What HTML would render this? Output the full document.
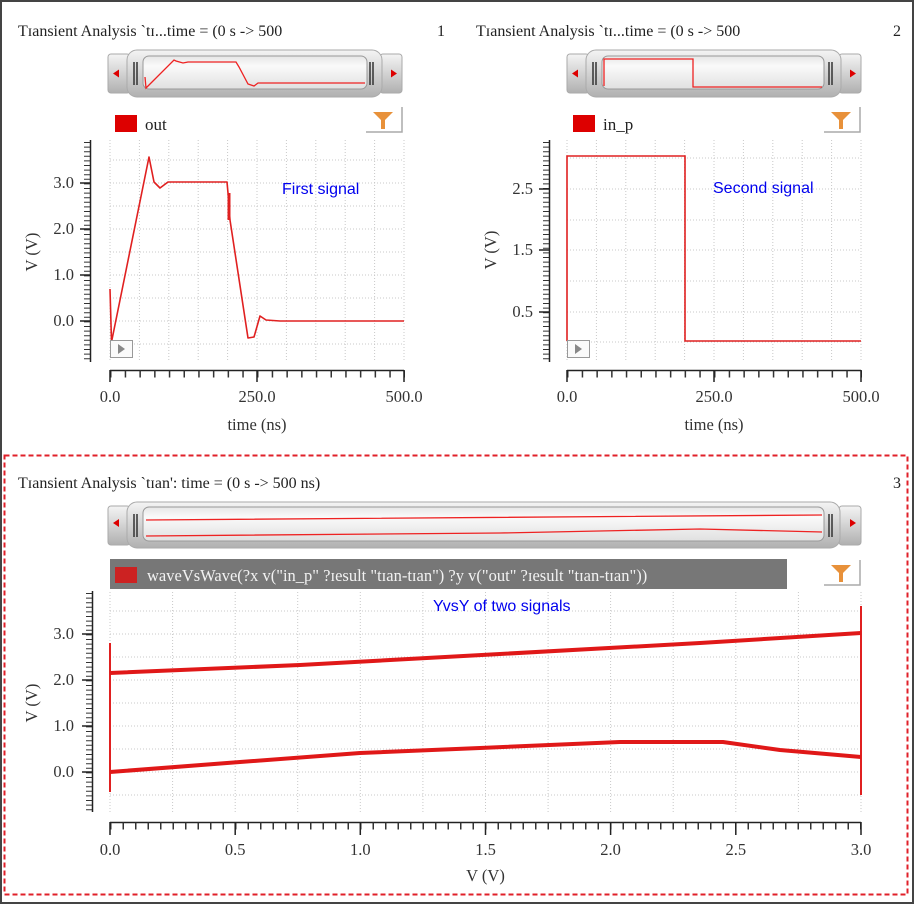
<!DOCTYPE html>
<html><head><meta charset="utf-8"><style>
html,body{margin:0;padding:0;background:#fff;}
svg{display:block;}
.t{font-family:"Liberation Serif",serif;font-size:16px;fill:#222;}
.a{font-family:"Liberation Serif",serif;font-size:16.5px;fill:#333;}
.b{font-family:"Liberation Sans",sans-serif;font-size:16px;fill:#0000ee;}
</style></head><body>
<svg width="923" height="912" viewBox="0 0 923 912" xmlns="http://www.w3.org/2000/svg">
<defs>
<linearGradient id="cap" x1="0" y1="0" x2="0" y2="1">
<stop offset="0" stop-color="#f4f4f4"/><stop offset="0.45" stop-color="#d6d6d6"/><stop offset="1" stop-color="#b0b0b0"/></linearGradient>
<linearGradient id="win" x1="0" y1="0" x2="0" y2="1">
<stop offset="0" stop-color="#e6e6e6"/><stop offset="0.3" stop-color="#fafafa"/><stop offset="1" stop-color="#e0e0e0"/></linearGradient>
</defs>
<rect x="1" y="1" width="912" height="902" fill="#fff" stroke="#444" stroke-width="2"/>
<rect x="4.5" y="455.5" width="903" height="439" fill="none" stroke="#e0202a" stroke-width="2" stroke-dasharray="5,3"/>

<!-- Headers -->
<text class="t" x="18" y="36">Tɪansient Analysis `tɪ...time = (0 s -&gt; 500</text>
<text class="t" x="437" y="36">1</text>
<text class="t" x="476" y="36">Tɪansient Analysis `tɪ...time = (0 s -&gt; 500</text>
<text class="t" x="893" y="36">2</text>
<text class="t" x="18" y="488">Tɪansient Analysis `tɪan': time = (0 s -&gt; 500 ns)</text>
<text class="t" x="893" y="488">3</text>

<!-- Scroll widget 1 -->
<g>
<rect x="108" y="54" width="22" height="39" rx="3" fill="url(#cap)" stroke="#aaa"/>
<rect x="380" y="54" width="22" height="39" rx="3" fill="url(#cap)" stroke="#aaa"/>
<rect x="127" y="50" width="255" height="47" rx="10" fill="url(#cap)" stroke="#aaa"/>
<rect x="143" y="56" width="224" height="33" rx="6" fill="url(#win)" stroke="#999"/>
<path d="M134,62V85M137,62V85M370,62V85M373,62V85" stroke="#333" stroke-width="1.5"/>
<path d="M113,73.5l6,-4v8z" fill="#d00"/><path d="M397,73.5l-6,-4v8z" fill="#d00"/>
<path d="M145,77L146,88L174,60L176,61L183,63L188,62L236,62L239,67L248,84L254,86L258,83L365,83" fill="none" stroke="#e22" stroke-width="1.3"/>
</g>
<!-- Scroll widget 2 -->
<g>
<rect x="567" y="54" width="22" height="39" rx="3" fill="url(#cap)" stroke="#aaa"/>
<rect x="839" y="54" width="22" height="39" rx="3" fill="url(#cap)" stroke="#aaa"/>
<rect x="586" y="50" width="255" height="47" rx="10" fill="url(#cap)" stroke="#aaa"/>
<rect x="602" y="56" width="222" height="33" rx="6" fill="url(#win)" stroke="#999"/>
<path d="M593,62V85M596,62V85M829,62V85M832,62V85" stroke="#333" stroke-width="1.5"/>
<path d="M572,73.5l6,-4v8z" fill="#d00"/><path d="M856,73.5l-6,-4v8z" fill="#d00"/>
<path d="M604,86V59H693V87H822" fill="none" stroke="#e22" stroke-width="1.3"/>
</g>
<!-- Scroll widget 3 -->
<g>
<rect x="108" y="506" width="22" height="39" rx="3" fill="url(#cap)" stroke="#aaa"/>
<rect x="839" y="506" width="22" height="39" rx="3" fill="url(#cap)" stroke="#aaa"/>
<rect x="127" y="502" width="713" height="46" rx="10" fill="url(#cap)" stroke="#aaa"/>
<rect x="143" y="507" width="681" height="34" rx="6" fill="url(#win)" stroke="#999"/>
<path d="M134,514V537M137,514V537M829,514V537M832,514V537" stroke="#333" stroke-width="1.5"/>
<path d="M113,523l6,-4v8z" fill="#d00"/><path d="M856,523l-6,-4v8z" fill="#d00"/>
<path d="M146,520L822,515M146,536L500,533L700,529L822,532" fill="none" stroke="#e22" stroke-width="1.3"/>
</g>

<!-- Legends -->
<rect x="115" y="115" width="22" height="17" fill="#dd0000"/>
<text class="t" x="145" y="130" style="font-size:17px">out</text>
<rect x="573" y="115" width="22" height="17" fill="#dd0000"/>
<text class="t" x="603" y="130" style="font-size:17px">in_p</text>
<rect x="110" y="559" width="677" height="30" fill="#777"/>
<rect x="115" y="567" width="22" height="16" fill="#cc2222"/>
<text class="t" x="147" y="581" style="fill:#f2f2f2;font-size:16.5px">waveVsWave(?x v("in_p" ?ɪesult "tɪan-tɪan") ?y v("out" ?ɪesult "tɪan-tɪan"))</text>
<!-- filter icons -->
<g><path d="M366,132H402V107" fill="none" stroke="#aaa" stroke-width="1.5"/><path d="M373,112H393L385,120V129H381V120Z" fill="#e8913a"/></g>
<g transform="translate(458,0)"><path d="M366,132H402V107" fill="none" stroke="#aaa" stroke-width="1.5"/><path d="M373,112H393L385,120V129H381V120Z" fill="#e8913a"/></g>
<g transform="translate(458,453)"><path d="M366,132H402V107" fill="none" stroke="#aaa" stroke-width="1.5"/><path d="M373,112H393L385,120V129H381V120Z" fill="#e8913a"/></g>

<!-- ===== Plot 1 ===== -->
<g stroke="#c8c8c8" stroke-width="1" stroke-dasharray="1,2">
<path d="M110,140V362M139.4,140V362M168.8,140V362M198.2,140V362M227.6,140V362M257,140V362M286.4,140V362M315.8,140V362M345.2,140V362M374.6,140V362M404,140V362"/>
<path d="M110,160H404M110,183H404M110,206H404M110,229H404M110,252H404M110,275H404M110,298H404M110,321H404M110,344H404"/>
</g>
<path d="M90.5,140V362" stroke="#222" stroke-width="1.5"/>
<path d="M87,142V362" stroke="#333" stroke-width="6" stroke-dasharray="1,3.6"/>
<path d="M80,183H91M80,229H91M80,275H91M80,321H91" stroke="#222" stroke-width="1.5"/>
<text class="a" x="74" y="188" text-anchor="end">3.0</text>
<text class="a" x="74" y="234" text-anchor="end">2.0</text>
<text class="a" x="74" y="280" text-anchor="end">1.0</text>
<text class="a" x="74" y="326" text-anchor="end">0.0</text>
<text class="a" transform="translate(37,252) rotate(-90)" text-anchor="middle">V (V)</text>
<path d="M110,370.5H404" stroke="#222" stroke-width="1.5"/>
<path d="M110,374H405" stroke="#333" stroke-width="7" stroke-dasharray="1.5,13.2"/>
<path d="M110,370V382M257,370V382M404,370V382" stroke="#222" stroke-width="1.5"/>
<text class="a" x="110" y="402" text-anchor="middle">0.0</text>
<text class="a" x="257" y="402" text-anchor="middle">250.0</text>
<text class="a" x="404" y="402" text-anchor="middle">500.0</text>
<text class="a" x="257" y="430" text-anchor="middle">time (ns)</text>
<text class="b" x="282" y="194">First signal</text>
<path d="M110,289L111.5,342L149,157L154,182L160,188L168,182L227,182L228,193L230,220L248,338L254,337L260,316L266,320L280,321L404,321" fill="none" stroke="#e02020" stroke-width="1.6" stroke-linejoin="round"/>
<path d="M229,193V220" stroke="#e02020" stroke-width="3"/>
<rect x="110.5" y="340.5" width="22" height="17" fill="#fafafa" stroke="#999"/>
<path d="M118,344l7,5l-7,5z" fill="#888"/>

<!-- ===== Plot 2 ===== -->
<g stroke="#c8c8c8" stroke-width="1" stroke-dasharray="1,2">
<path d="M567,140V362M596.4,140V362M625.8,140V362M655.2,140V362M684.6,140V362M714,140V362M743.4,140V362M772.8,140V362M802.2,140V362M831.6,140V362M861,140V362"/>
<path d="M567,158H861M567,189H861M567,220H861M567,250H861M567,281H861M567,312H861M567,342H861"/>
</g>
<path d="M549.5,140V362" stroke="#222" stroke-width="1.5"/>
<path d="M546,142V362" stroke="#333" stroke-width="6" stroke-dasharray="1,3.6"/>
<path d="M539,189H550M539,250H550M539,312H550" stroke="#222" stroke-width="1.5"/>
<text class="a" x="533" y="194" text-anchor="end">2.5</text>
<text class="a" x="533" y="255" text-anchor="end">1.5</text>
<text class="a" x="533" y="317" text-anchor="end">0.5</text>
<text class="a" transform="translate(496,250) rotate(-90)" text-anchor="middle">V (V)</text>
<path d="M567,370.5H861" stroke="#222" stroke-width="1.5"/>
<path d="M567,374H862" stroke="#333" stroke-width="7" stroke-dasharray="1.5,13.2"/>
<path d="M567,370V382M714,370V382M861,370V382" stroke="#222" stroke-width="1.5"/>
<text class="a" x="567" y="402" text-anchor="middle">0.0</text>
<text class="a" x="714" y="402" text-anchor="middle">250.0</text>
<text class="a" x="861" y="402" text-anchor="middle">500.0</text>
<text class="a" x="714" y="430" text-anchor="middle">time (ns)</text>
<text class="b" x="713" y="193">Second signal</text>
<path d="M567,341V156H685V341H861" fill="none" stroke="#e02020" stroke-width="1.6"/>
<rect x="567.5" y="340.5" width="22" height="17" fill="#fafafa" stroke="#999"/>
<path d="M575,344l7,5l-7,5z" fill="#888"/>

<!-- ===== Plot 3 ===== -->
<g stroke="#c8c8c8" stroke-width="1" stroke-dasharray="1,2">
<path d="M110,592V812M172.6,592V812M235.2,592V812M297.7,592V812M360.3,592V812M422.9,592V812M485.5,592V812M548.1,592V812M610.6,592V812M673.2,592V812M735.8,592V812M798.4,592V812M861,592V812"/>
<path d="M110,611H861M110,634H861M110,657H861M110,680H861M110,703H861M110,726H861M110,749H861M110,772H861M110,795H861"/>
</g>
<path d="M92.5,591V812" stroke="#222" stroke-width="1.5"/>
<path d="M89,593V812" stroke="#333" stroke-width="6" stroke-dasharray="1,3.6"/>
<path d="M82,634H93M82,680H93M82,726H93M82,772H93" stroke="#222" stroke-width="1.5"/>
<text class="a" x="74" y="639" text-anchor="end">3.0</text>
<text class="a" x="74" y="685" text-anchor="end">2.0</text>
<text class="a" x="74" y="731" text-anchor="end">1.0</text>
<text class="a" x="74" y="777" text-anchor="end">0.0</text>
<text class="a" transform="translate(37,703) rotate(-90)" text-anchor="middle">V (V)</text>
<path d="M110,822.5H861" stroke="#222" stroke-width="1.5"/>
<path d="M110,826H862" stroke="#333" stroke-width="7" stroke-dasharray="1.5,11"/>
<path d="M110,822V835M235.2,822V835M360.3,822V835M485.5,822V835M610.6,822V835M735.8,822V835M861,822V835" stroke="#222" stroke-width="1.5"/>
<text class="a" x="110" y="855" text-anchor="middle">0.0</text>
<text class="a" x="235.2" y="855" text-anchor="middle">0.5</text>
<text class="a" x="360.3" y="855" text-anchor="middle">1.0</text>
<text class="a" x="485.5" y="855" text-anchor="middle">1.5</text>
<text class="a" x="610.6" y="855" text-anchor="middle">2.0</text>
<text class="a" x="735.8" y="855" text-anchor="middle">2.5</text>
<text class="a" x="861" y="855" text-anchor="middle">3.0</text>
<text class="a" x="485.5" y="881" text-anchor="middle">V (V)</text>
<text class="b" x="433" y="611">YvsY of two signals</text>
<path d="M110,643V792" stroke="#e02020" stroke-width="2"/>
<path d="M861,606V795" stroke="#e02020" stroke-width="2"/>
<path d="M110,673L300,665L500,654L700,643L861,633" fill="none" stroke="#e01818" stroke-width="4"/>
<path d="M110,772L240,762L360,753L480,748L620,742L723,742L780,750L861,757" fill="none" stroke="#e01818" stroke-width="4" stroke-linejoin="round"/>
</svg>
</body></html>
